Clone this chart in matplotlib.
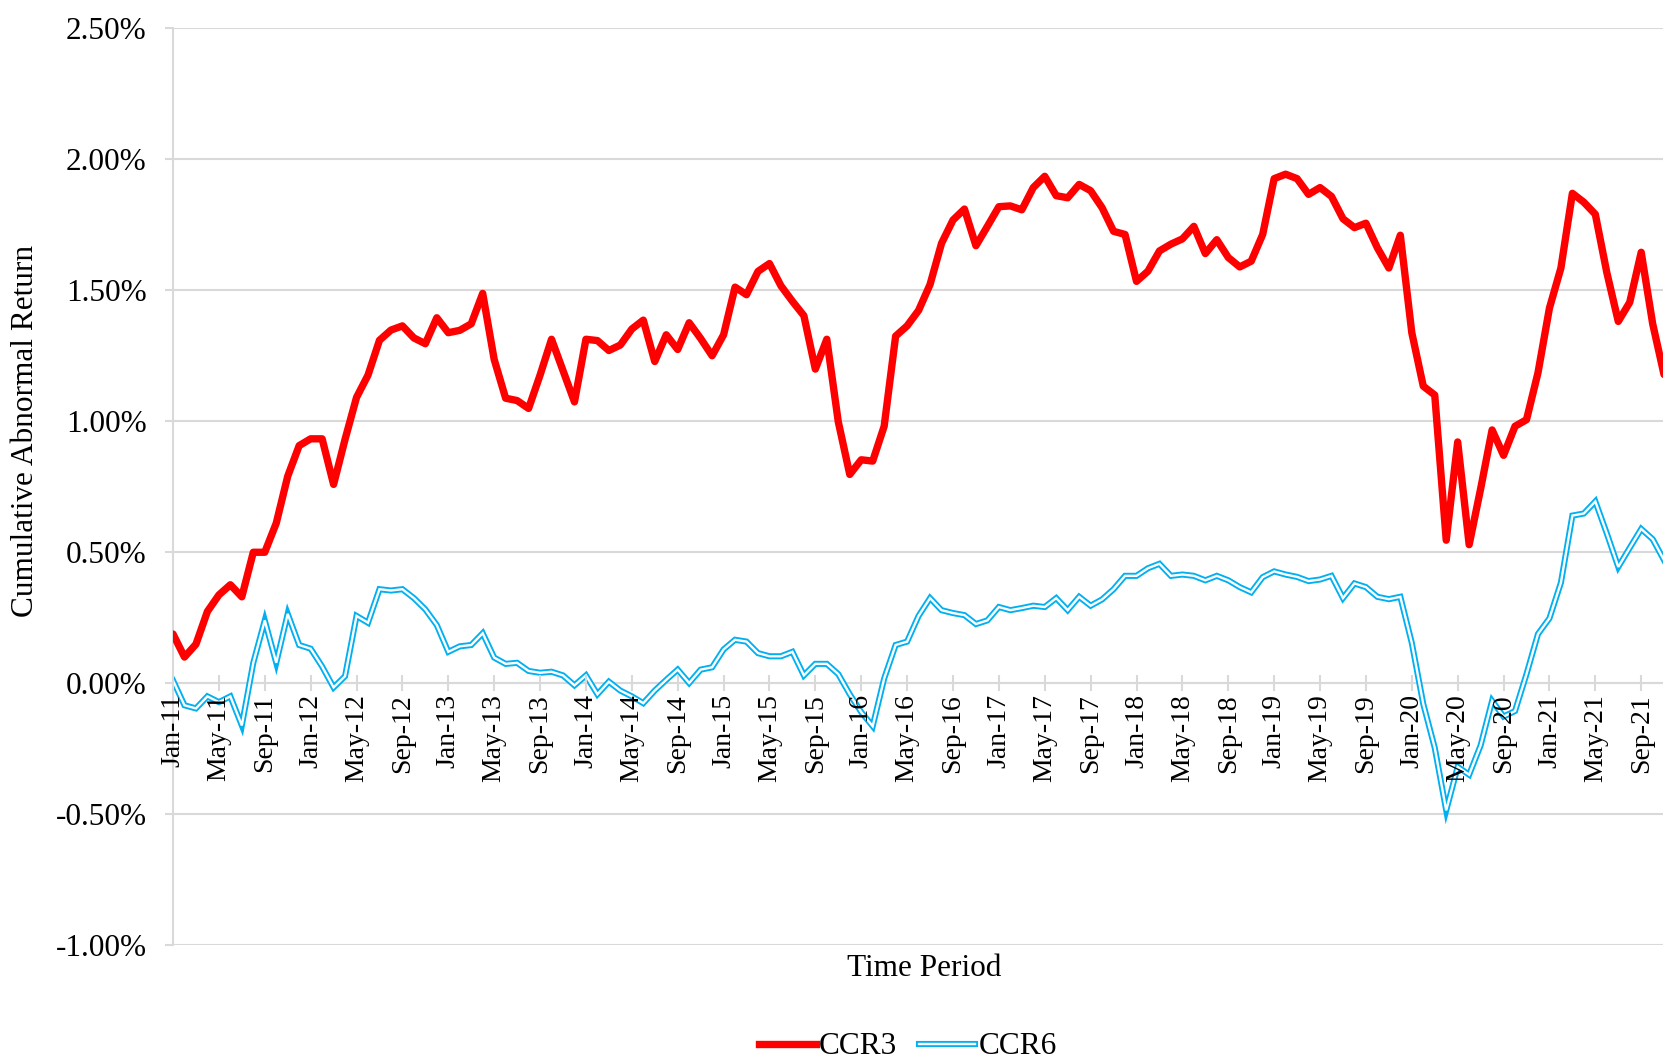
import matplotlib
matplotlib.use("Agg")
import matplotlib.pyplot as plt
from matplotlib.lines import Line2D
from matplotlib.legend_handler import HandlerTuple
from matplotlib.ticker import FuncFormatter, FixedLocator
import pandas as pd

plt.rcParams['font.family'] = ['Liberation Serif', 'DejaVu Serif']

# month categories (Jan-11 onward)
months = pd.date_range("2011-01-01", periods=131, freq="MS")
month_labels = [d.strftime("%b-%y") for d in months]

ccr3 = [0.187, 0.099, 0.148, 0.273, 0.336, 0.375, 0.329, 0.499, 0.499, 0.610,
        0.789, 0.906, 0.932, 0.932, 0.758, 0.930, 1.090, 1.175, 1.308, 1.347,
        1.363, 1.317, 1.295, 1.394, 1.337, 1.346, 1.371, 1.487, 1.235, 1.087,
        1.078, 1.048, 1.175, 1.312, 1.193, 1.073, 1.312, 1.307, 1.269, 1.290,
        1.351, 1.385, 1.227, 1.329, 1.273, 1.375, 1.315, 1.249, 1.329, 1.511,
        1.482, 1.571, 1.601, 1.516, 1.457, 1.402, 1.198, 1.312, 0.997, 0.796,
        0.852, 0.847, 0.980, 1.324, 1.363, 1.422, 1.521, 1.678, 1.767, 1.809,
        1.669, 1.743, 1.818, 1.821, 1.806, 1.891, 1.934, 1.860, 1.852, 1.903,
        1.879, 1.814, 1.724, 1.712, 1.533, 1.572, 1.649, 1.675, 1.695, 1.743,
        1.639, 1.692, 1.624, 1.588, 1.610, 1.712, 1.925, 1.942, 1.925, 1.865,
        1.891, 1.857, 1.772, 1.738, 1.755, 1.661, 1.584, 1.709, 1.337, 1.133,
        1.099, 0.545, 0.920, 0.528, 0.741, 0.966, 0.869, 0.980, 1.005, 1.184,
        1.431, 1.584, 1.869, 1.835, 1.789, 1.567, 1.380, 1.453, 1.644, 1.371,
        1.175]

ccr6 = [0.010, -0.085, -0.097, -0.051, -0.073, -0.051, -0.162, 0.077, 0.239, 0.077,
        0.264, 0.145, 0.131, 0.063, -0.017, 0.026, 0.256, 0.230, 0.358, 0.353,
        0.358, 0.324, 0.281, 0.221, 0.119, 0.140, 0.145, 0.190, 0.097, 0.073,
        0.077, 0.046, 0.039, 0.043, 0.029, -0.009, 0.029, -0.043, 0.005, -0.029,
        -0.051, -0.077, -0.029, 0.012, 0.051, 0.000, 0.051, 0.060, 0.128, 0.165,
        0.158, 0.114, 0.102, 0.102, 0.119, 0.029, 0.073, 0.073, 0.034, -0.043,
        -0.111, -0.165, 0.017, 0.145, 0.158, 0.256, 0.324, 0.278, 0.267, 0.259,
        0.225, 0.239, 0.290, 0.278, 0.286, 0.295, 0.290, 0.324, 0.278, 0.329,
        0.295, 0.319, 0.358, 0.409, 0.409, 0.438, 0.455, 0.409, 0.414, 0.409,
        0.392, 0.409, 0.392, 0.366, 0.346, 0.404, 0.426, 0.414, 0.405, 0.389,
        0.395, 0.409, 0.324, 0.380, 0.366, 0.329, 0.320, 0.329, 0.153, -0.080,
        -0.247, -0.486, -0.320, -0.350, -0.238, -0.068, -0.128, -0.107, 0.034, 0.187,
        0.247, 0.383, 0.639, 0.647, 0.693, 0.571, 0.443, 0.516, 0.588, 0.549,
        0.468]

y_ticks = [-1.0, -0.5, 0.0, 0.5, 1.0, 1.5, 2.0, 2.5]

RED = "#FF0000"
BLUE = "#00B0F0"
GRID = "#D9D9D9"

W, H = 1663, 1059
fig = plt.figure(figsize=(W / 100, H / 100), dpi=100)
left = 173 / W
bottom = 1 - 945 / H
top = 1 - 28 / H
ax = fig.add_axes([left, bottom, 1 - left, top - bottom])

for s in ['top', 'right']:
    ax.spines[s].set_visible(False)
ax.spines['left'].set_color(GRID)
ax.spines['left'].set_linewidth(1.5)
ax.spines['bottom'].set_position(('data', 0))
ax.spines['bottom'].set_color(GRID)
ax.spines['bottom'].set_linewidth(1.5)

x = list(range(len(month_labels)))

ax.plot(x, ccr3, color=RED, lw=5.3, solid_joinstyle='round', solid_capstyle='round', zorder=4)
ax.plot(x, ccr6, color=BLUE, lw=4.4, solid_joinstyle='miter', zorder=3)
ax.plot(x, ccr6, color="white", lw=1.7, solid_joinstyle='miter', zorder=3.1)

ax.set_xlim(0, 129.9)
ax.set_ylim(-1.0, 2.5)

ax.yaxis.set_major_locator(FixedLocator(y_ticks))
ax.yaxis.set_major_formatter(FuncFormatter(lambda v, p: f"{v:.2f}%"))
ax.grid(axis='y', color=GRID, lw=1.5, zorder=0)
ax.set_axisbelow(True)

tick_pos = x[::4]
ax.set_xticks(tick_pos)
ax.set_xticklabels([month_labels[i] for i in tick_pos])

ax.tick_params(axis='y', direction='out', length=6, width=1.5, color=GRID,
               labelsize=22.5, pad=13)
ax.tick_params(axis='x', direction='inout', length=12, width=1.5, color=GRID,
               labelsize=20, pad=2, labelrotation=90)
ax.xaxis.set_zorder(5)

fig.text(26 / W, 1 - 431 / H, "Cumulative Abnormal Return", rotation=90,
         ha='center', va='center', fontsize=22.5)
fig.text(924 / W, 1 - 968 / H, "Time Period", ha='center', va='center', fontsize=22.5)

h_red = Line2D([], [], color=RED, lw=5.3)
h_blue = Line2D([], [], color=BLUE, lw=4.4)
h_white = Line2D([], [], color="white", lw=1.7)
fig.legend([h_red, (h_blue, h_white)], ["CCR3", "CCR6"],
           handler_map={tuple: HandlerTuple(ndivide=1, pad=0)},
           loc='center', bbox_to_anchor=(908 / W, 1 - 1047 / H), ncol=2,
           frameon=False, fontsize=22.5, handlelength=1.8, handletextpad=0.1,
           columnspacing=0.7, borderpad=0, borderaxespad=0)

fig.savefig("out.png", dpi=100)
